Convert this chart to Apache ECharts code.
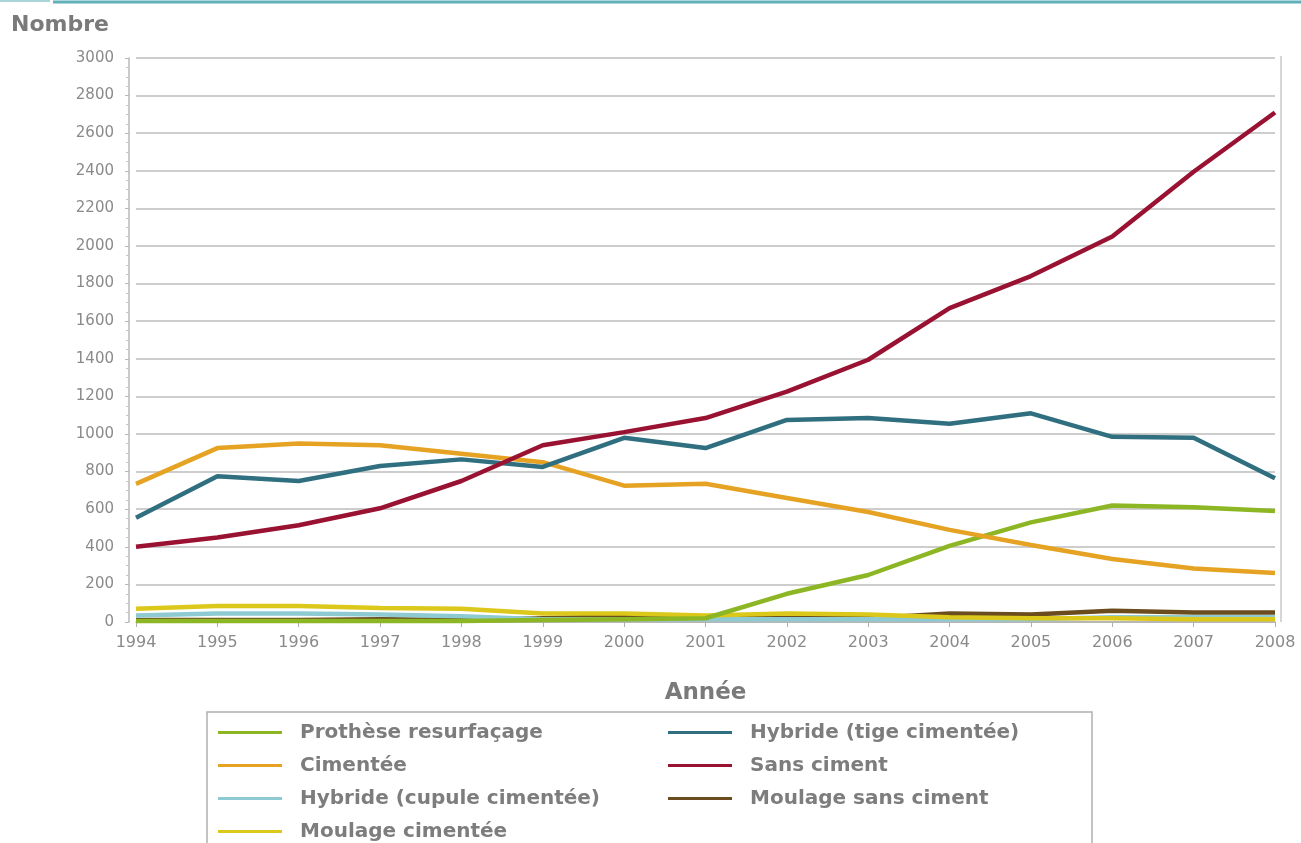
<!DOCTYPE html>
<html>
<head>
<meta charset="utf-8">
<script src="https://cdn.jsdelivr.net/npm/echarts@6/dist/echarts.min.js"></script>
<style>
html,body{margin:0;padding:0;background:#fff;}
#chart{width:1301px;height:843px;}
</style>
</head>
<body>
<div id="chart"></div>
<script>
const years = ['1994','1995','1996','1997','1998','1999','2000','2001','2002','2003','2004','2005','2006','2007','2008'];
const yTicks = { min: 0, max: 3000, interval: 200 };

const protheseResurfacage = [5, 5, 5, 5, 5, 10, 15, 20, 150, 250, 405, 530, 620, 610, 590];
const cimentee = [735, 925, 950, 940, 895, 850, 725, 735, 660, 585, 490, 410, 335, 285, 260];
const hybrideCupule = [35, 45, 45, 40, 30, 15, 15, 15, 15, 15, 15, 15, 25, 25, 25];
const moulageCimentee = [70, 85, 85, 75, 70, 45, 45, 35, 45, 40, 25, 20, 20, 15, 15];
const hybrideTige = [555, 775, 750, 830, 865, 825, 980, 925, 1075, 1085, 1055, 1110, 985, 980, 765];
const sansCiment = [400, 450, 515, 605, 750, 940, 1010, 1085, 1225, 1395, 1670, 1840, 2050, 2395, 2710];
const moulageSansCiment = [10, 10, 10, 15, 10, 20, 30, 30, 20, 20, 45, 40, 60, 50, 50];

const seriesDefs = [
  { name: 'Prothèse resurfaçage', data: protheseResurfacage, color: '#8db624' },
  { name: 'Cimentée', data: cimentee, color: '#e6a222' },
  { name: 'Hybride (cupule cimentée)', data: hybrideCupule, color: '#8ecad2' },
  { name: 'Moulage cimentée', data: moulageCimentee, color: '#dcc81a' },
  { name: 'Hybride (tige cimentée)', data: hybrideTige, color: '#2f6f80' },
  { name: 'Sans ciment', data: sansCiment, color: '#9a1232' },
  { name: 'Moulage sans ciment', data: moulageSansCiment, color: '#6b4c1e' }
];
const drawOrder = [6, 2, 3, 0, 1, 4, 5];

const font = 'DejaVu Sans';
const legendText = { fontFamily: font, fontSize: 20, fontWeight: 'bold', color: '#7d7d7d', padding: [0, 0, 0, 13], lineHeight: 21 };

const chart = echarts.init(document.getElementById('chart'), null, { renderer: 'canvas' });
chart.setOption({
  backgroundColor: '#ffffff',
  animation: false,
  grid: { left: 136, right: 26, top: 58, bottom: 221, show: false },
  graphic: [
    { type: 'line', shape: { x1: 0, y1: 1, x2: 50, y2: 1 }, style: { stroke: '#a9d4d8', lineWidth: 2 } },
    { type: 'line', shape: { x1: 53, y1: 2, x2: 1301, y2: 2 }, style: { stroke: '#5fb0b8', lineWidth: 3 } },
    { type: 'line', shape: { x1: 1281, y1: 56, x2: 1281, y2: 622 }, style: { stroke: '#c8c8c8', lineWidth: 1.5 } },
    { type: 'rect', shape: { x: 207, y: 712, width: 885, height: 150 }, style: { fill: 'none', stroke: '#b0b0b0', lineWidth: 1.5 } }
  ],
  xAxis: {
    type: 'category',
    data: years,
    boundaryGap: false,
    name: 'Année',
    nameLocation: 'middle',
    nameGap: 60,
    nameTextStyle: { fontFamily: font, fontSize: 23, fontWeight: 'bold', color: '#7a7a7a' },
    axisLine: { lineStyle: { color: '#b0b0b0', width: 1.5 } },
    axisTick: { show: true, alignWithLabel: true, length: 5, lineStyle: { color: '#b0b0b0' } },
    axisLabel: { fontFamily: font, fontSize: 16, color: '#8a8a8a', margin: 13 },
    splitLine: { show: false }
  },
  yAxis: {
    type: 'value',
    min: yTicks.min,
    max: yTicks.max,
    interval: yTicks.interval,
    offset: 7,
    name: 'Nombre',
    nameLocation: 'end',
    nameGap: 22,
    nameTextStyle: { fontFamily: font, fontSize: 22, fontWeight: 'bold', color: '#7a7a7a', align: 'left', padding: [0, 0, 0, -118] },
    axisLine: { show: true, lineStyle: { color: '#b8b8b8', width: 1.5 } },
    axisTick: { show: true, length: 4, lineStyle: { color: '#b8b8b8' } },
    minorTick: { show: true, splitNumber: 4, length: 3, lineStyle: { color: '#c8c8c8' } },
    axisLabel: { fontFamily: font, fontSize: 15, color: '#8a8a8a', margin: 15, formatter: v => String(v) },
    splitLine: { show: true, lineStyle: { color: '#cdcdcd', width: 2 } }
  },
  legend: [
    {
      data: seriesDefs.slice(0, 4).map(s => s.name),
      orient: 'vertical', left: 218, top: 722, padding: 0,
      itemWidth: 64, itemHeight: 14, itemGap: 12,
      textStyle: legendText, icon: 'path://M0,6 L64,6 L64,9 L0,9 Z'
    },
    {
      data: seriesDefs.slice(4).map(s => s.name),
      orient: 'vertical', left: 668, top: 722, padding: 0,
      itemWidth: 64, itemHeight: 14, itemGap: 12,
      textStyle: legendText, icon: 'path://M0,6 L64,6 L64,9 L0,9 Z'
    }
  ],
  series: drawOrder.map(i => {
    const s = seriesDefs[i];
    return {
      name: s.name, type: 'line', data: s.data,
      symbol: 'none', smooth: false,
      lineStyle: { color: s.color, width: 4.5 },
      itemStyle: { color: s.color }
    };
  })
});
</script>
</body>
</html>
